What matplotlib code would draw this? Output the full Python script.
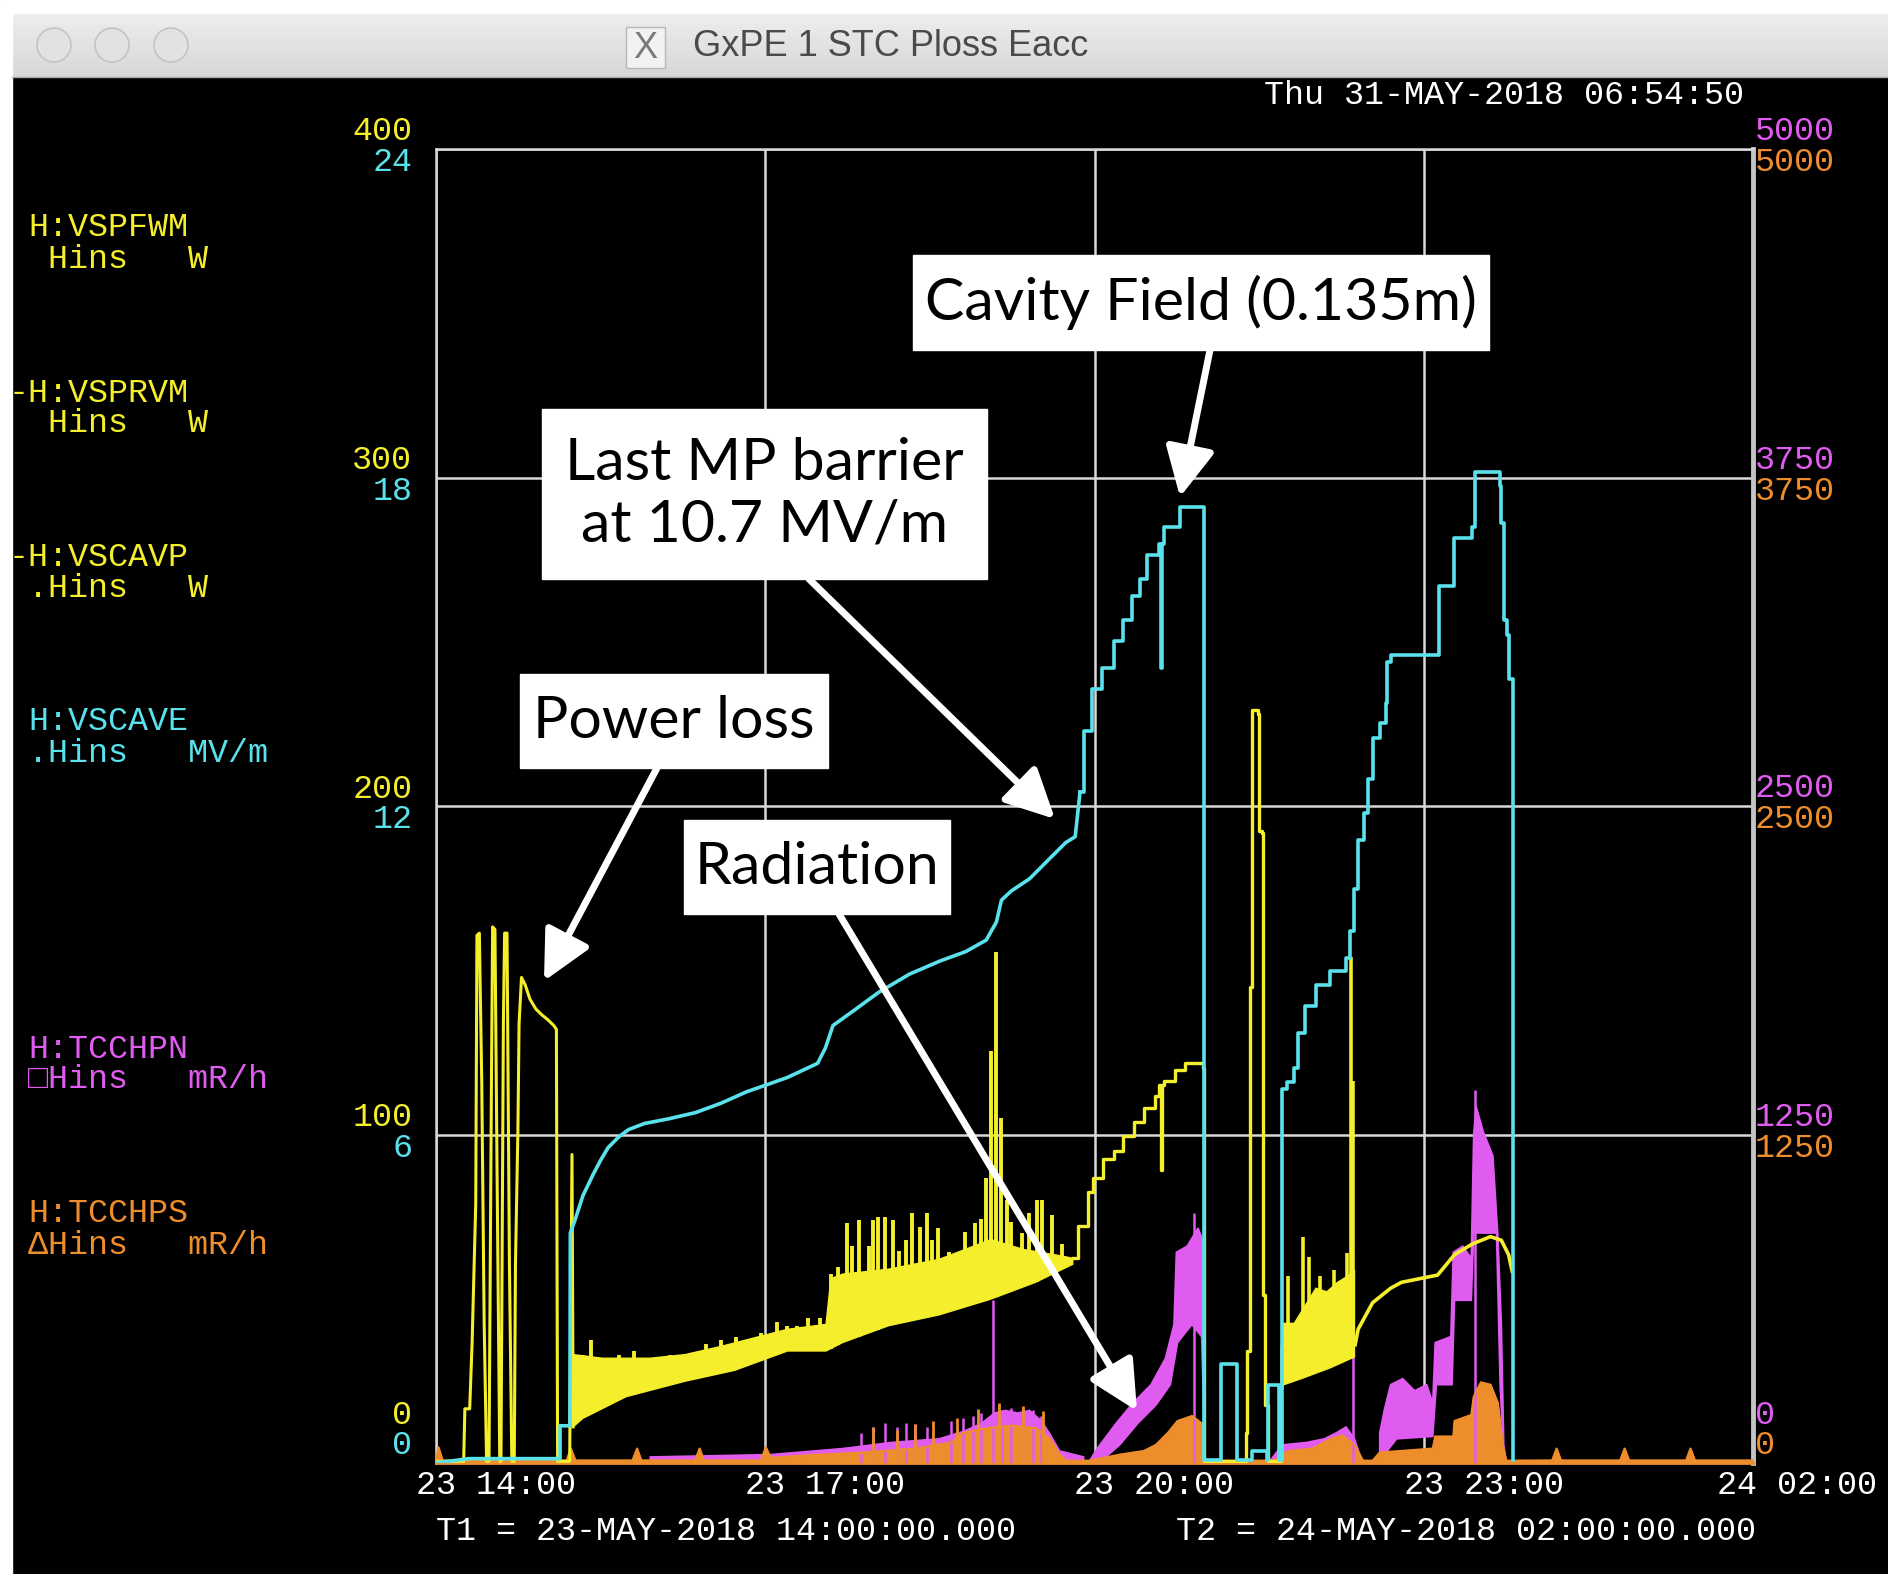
import numpy as np
import matplotlib.pyplot as plt
from matplotlib import transforms
from matplotlib.patches import Rectangle, Circle

W, H = 1888, 1574

# time axis: hours after 23-MAY-2018 14:00
tick_hours = [0, 3, 6, 9, 12]
tick_labels = ["23 14:00", "23 17:00", "23 20:00", "23 23:00", "24 02:00"]
ploss_ticks = [0, 100, 200, 300, 400]
eacc_ticks = [0, 6, 12, 18, 24]
rad_ticks = [0, 1250, 2500, 3750, 5000]

# H:VSCAVE  cavity field (MV/m)
eacc_t = [0.0, 0.30, 1.13, 1.13, 1.22, 1.224, 1.272, 1.338, 1.434, 1.503, 1.568, 1.667, 1.755, 1.898,
          2.128, 2.364, 2.595, 2.830, 3.016, 3.200, 3.477, 3.548, 3.617, 3.804, 4.036, 4.315, 4.594,
          4.826, 5.013, 5.106, 5.152, 5.243, 5.408, 5.572, 5.737, 5.824, 5.868, 5.901, 5.978, 6.066,
          6.175, 6.263, 6.340, 6.417, 6.482, 6.592, 6.603, 6.614, 6.636, 6.768, 6.779, 6.998, 7.0,
          7.152, 7.152, 7.294, 7.294, 7.437, 7.437, 7.546, 7.568, 7.579, 7.579, 7.678, 7.678, 7.711,
          7.711, 7.755, 7.820, 7.853, 7.919, 8.018, 8.150, 8.292, 8.325, 8.369, 8.402, 8.457, 8.490,
          8.534, 8.599, 8.654, 8.665, 8.698, 9.126, 9.137, 9.280, 9.280, 9.444, 9.466, 9.663, 9.696,
          9.707, 9.729, 9.762, 9.773, 9.817, 9.817]
eacc = [0.0, 0.08, 0.08, 0.68, 0.68, 4.20, 4.47, 4.88, 5.28, 5.54, 5.76, 5.96, 6.09, 6.20,
        6.29, 6.40, 6.57, 6.78, 6.91, 7.04, 7.30, 7.58, 7.99, 8.26, 8.60, 8.93, 9.17,
        9.34, 9.55, 9.88, 10.28, 10.45, 10.67, 11.00, 11.33, 11.44, 12.25, 13.37, 14.14, 14.52,
        15.02, 15.40, 15.84, 16.15, 16.59, 16.78, 14.52, 16.78, 17.09, 17.09, 17.47, 17.47, 0.05,
        0.05, 1.80, 1.80, 0.05, 0.05, 0.22, 0.22, 0.05, 0.05, 1.43, 1.43, 0.05, 0.05,
        6.84, 6.96, 7.22, 7.85, 8.34, 8.73, 8.98, 9.22, 9.72, 10.49, 11.37, 11.88, 12.50,
        13.24, 13.51, 13.88, 14.63, 14.76, 14.76, 16.01, 16.01, 16.89, 17.09, 18.10, 18.10, 17.84,
        17.16, 15.40, 15.13, 14.32, 13.31, 0.05]
eacc_steps_from = 5.868  # after this the trace is a coarse staircase

# H:VSCAVP  power loss (W): early trips
ploss_a_t = [0.0, 0.252, 0.263, 0.307, 0.329, 0.362, 0.373, 0.395, 0.417, 0.439, 0.461, 0.483, 0.505,
             0.516, 0.537, 0.559, 0.581, 0.592, 0.614, 0.625, 0.647, 0.669, 0.691, 0.713, 0.724, 0.746,
             0.757, 0.779, 0.812, 0.856, 0.910, 0.965, 1.020, 1.075, 1.097, 1.108, 1.218, 1.239, 1.250]
ploss_a = [0.5, 0.5, 16.5, 16.5, 36.7, 78.8, 160.6, 161.3, 115.5, 42.2, 0.5, 0.5, 115.5,
           163.2, 162.4, 78.8, 0.5, 0.5, 133.8, 161.3, 161.3, 60.5, 0.5, 0.5, 60.5, 100.8,
           133.8, 147.8, 145.6, 141.2, 138.2, 136.4, 134.9, 133.1, 132.0, 0.5, 0.5, 93.9, 11.0]

# noisy power loss band, first ramp
band1_hi_t = [1.250, 1.514, 1.952, 2.270, 2.611, 3.203, 3.554, 3.598, 3.707, 4.124, 4.585, 5.056, 5.353, 5.704, 5.802]
band1_hi = [33.0, 31.9, 31.9, 33.0, 35.6, 40.7, 42.2, 56.1, 57.5, 59.0, 62.0, 68.0, 65.0, 63.0, 62.3]
band1_lo_t = [1.250, 1.338, 1.733, 2.270, 2.720, 3.203, 3.554, 3.707, 4.124, 4.585, 5.056, 5.462, 5.802]
band1_lo = [11.0, 13.6, 20.2, 24.9, 28.2, 34.1, 34.1, 36.7, 41.8, 45.1, 49.9, 55.0, 60.5]
spike1_t = [1.338, 1.409, 1.525, 1.667, 1.805, 1.941, 2.128, 2.270, 2.457, 2.595, 2.731, 2.830, 2.962,
            3.104, 3.200, 3.291, 3.386, 3.499, 3.598, 3.663, 3.746, 3.790, 3.850, 3.943, 3.982, 4.025,
            4.091, 4.168, 4.223, 4.280, 4.333, 4.409, 4.475, 4.520, 4.574, 4.673, 4.760, 4.821, 4.914,
            4.964, 5.013, 5.056, 5.106, 5.152, 5.200, 5.243, 5.337, 5.400, 5.473, 5.524, 5.616, 5.704]
spike1_top = [32.8, 37.4, 30.4, 32.8, 34.1, 30.4, 32.8, 32.8, 36.3, 37.4, 38.5, 36.3, 39.6,
              42.9, 41.8, 41.8, 44.0, 44.0, 57.6, 59.8, 73.0, 66.0, 74.0, 66.0, 74.0, 75.0,
              75.0, 74.0, 64.5, 68.0, 76.0, 71.9, 76.0, 68.0, 71.5, 64.3, 62.3, 70.4, 73.0,
              74.4, 86.9, 125.4, 155.6, 104.9, 80.0, 73.3, 70.0, 76.0, 80.1, 80.1, 75.5, 66.7]

# power loss, second ramp up to the trip and the spike after it
ploss_c_t = [5.802, 5.846, 5.945, 5.989, 6.077, 6.175, 6.263, 6.362, 6.450, 6.548, 6.592, 6.603, 6.614,
             6.636, 6.735, 6.822, 6.921, 6.987, 6.998, 7.360, 7.382, 7.393, 7.415, 7.437, 7.491, 7.503,
             7.524, 7.535, 7.557, 7.579, 7.689, 7.700]
ploss_c = [62.3, 72.2, 82.5, 86.9, 92.4, 95.0, 99.4, 103.8, 108.2, 111.8, 115.1, 89.1, 115.1,
           116.2, 119.5, 121.7, 121.7, 120.3, 0.5, 0.5, 9.2, 34.1, 144.8, 229.2, 228.0, 192.5,
           191.7, 51.0, 17.6, 0.5, 0.5, 20.2]

band2_hi_t = [7.700, 7.722, 7.820, 8.018, 8.117, 8.215, 8.303, 8.369]
band2_hi = [34.8, 42.5, 42.5, 53.2, 52.1, 55.0, 56.8, 58.7]
band2_lo_t = [7.700, 7.722, 7.886, 8.150, 8.369]
band2_lo = [20.2, 23.8, 25.7, 29.0, 32.3]
spike2_t = [7.766, 7.897, 7.952, 8.051, 8.183, 8.303, 8.336, 8.358]
spike2_top = [56.8, 68.9, 62.7, 56.8, 58.7, 63.8, 154.0, 116.2]

ploss_e_t = [8.375, 8.402, 8.534, 8.698, 8.797, 8.961, 9.126, 9.280, 9.444, 9.608, 9.707, 9.773, 9.806]
ploss_e = [36.0, 40.7, 48.8, 53.2, 55.0, 56.1, 57.2, 63.4, 66.7, 68.9, 67.8, 63.4, 58.3]

# H:TCCHPN  radiation north (mR/h), scattered readings drawn as bands
radn_segments = [
    dict(hi_t=[1.952, 3.049, 3.707, 4.146, 4.585, 4.804, 4.969, 5.089, 5.188, 5.298, 5.408, 5.517, 5.594, 5.682, 5.901],
         hi=[23, 32, 55, 78, 92, 120, 150, 190, 200, 190, 200, 160, 110, 46, 23],
         lo_t=[1.952, 5.901], lo=[0, 0]),
    dict(hi_t=[5.956, 6.033, 6.197, 6.351, 6.515, 6.647, 6.724, 6.746, 6.844, 6.943, 6.987, 7.009],
         hi=[9, 60, 151, 229, 298, 399, 527, 802, 825, 894, 848, 9],
         lo_t=[5.956, 6.066, 6.230, 6.395, 6.559, 6.691, 6.757, 6.888, 6.976, 7.009],
         lo=[9, 9, 69, 151, 220, 298, 458, 527, 481, 9]),
    dict(hi_t=[7.601, 7.711, 7.930, 8.095, 8.204, 8.292, 8.369, 8.424],
         hi=[9, 69, 78, 92, 115, 137, 92, 23],
         lo_t=[7.601, 8.424], lo=[0, 0]),
    dict(hi_t=[8.599, 8.643, 8.698, 8.808, 8.917, 9.027, 9.082, 9.104, 9.247, 9.269, 9.356, 9.433, 9.455,
               9.477, 9.543, 9.630, 9.674, 9.707, 9.729, 9.751],
         hi=[115, 206, 298, 321, 275, 298, 229, 458, 481, 802, 825, 779, 1251,
             1357, 1260, 1169, 875, 527, 69, 9],
         lo_t=[8.599, 8.753, 9.082, 9.115, 9.258, 9.280, 9.433, 9.455, 9.663, 9.696, 9.729, 9.751],
         lo=[9, 92, 101, 298, 298, 619, 619, 875, 875, 298, 23, 9]),
]
radn_spike_t = [3.872, 3.982, 4.091, 4.201, 4.278, 4.366, 4.475, 4.694, 4.804, 4.892, 4.969, 5.078, 5.155,
                5.243, 5.353, 5.440, 5.517, 6.910, 8.358, 9.466]
radn_spike = [115, 137, 151, 137, 151, 147, 137, 160, 170, 180, 190, 619, 200,
              210, 205, 200, 180, 950, 435, 1420]

# H:TCCHPS  radiation south (mR/h)
rads_t = [0.0, 0.022, 0.06, 1.19, 1.228, 1.27, 1.79, 1.832, 1.87, 2.36, 2.402, 2.44, 2.96, 3.005, 3.049,
          3.488, 3.927, 4.366, 4.694, 4.804, 5.024, 5.243, 5.462, 5.594, 5.682, 5.748, 5.956, 6.230,
          6.450, 6.559, 6.669, 6.757, 6.888, 6.976, 7.009, 7.634, 7.766, 7.985, 8.150, 8.260, 8.369,
          8.446, 8.534, 8.599, 9.082, 9.104, 9.269, 9.280, 9.433, 9.455, 9.521, 9.608, 9.674, 9.718,
          9.751, 10.17, 10.21, 10.25, 10.79, 10.83, 10.87, 11.39, 11.43, 11.47, 12.0]
rads = [10, 60, 10, 10, 55, 10, 10, 55, 10, 10, 55, 10, 10, 60, 20,
        32, 41, 55, 78, 115, 133, 142, 133, 92, 32, 9, 9, 32,
        46, 69, 115, 160, 179, 151, 9, 9, 46, 55, 92, 105, 69,
        9, 9, 40, 55, 101, 101, 160, 183, 252, 307, 298, 229, 69,
        9, 10, 55, 10, 10, 55, 10, 10, 55, 10, 10]
rads_spike_t = [3.982, 4.201, 4.366, 4.530, 4.749, 4.936, 5.133, 5.353, 5.528]
rads_spike = [137, 124, 147, 160, 170, 206, 229, 215, 197]

YEL = "#f4ee2c"
CYA = "#5ae2ec"
MAG = "#e05cf0"
ORA = "#ee8d2c"
GRID = "#d8d8d8"
MONO = "Liberation Mono"
FS = 24

fig = plt.figure(figsize=(W / 100, H / 100), dpi=100, facecolor="black")


def fx(x):
    return x / W


def fy(y):
    return 1 - y / H


# window frame, pixel coordinates
bg = fig.add_axes([0, 0, 1, 1], zorder=0)
grad = np.linspace(0.93, 0.84, 64).reshape(-1, 1)
bg.imshow(grad, extent=[12, W, 77, 13], cmap="gray", vmin=0, vmax=1, aspect="auto")
bg.add_patch(Rectangle((0, 0), 12, H, color="white"))
bg.add_patch(Rectangle((0, 0), W, 13, color="white"))
bg.plot([12, W], [76.5, 76.5], color="#a8a8a8", lw=1)
for cx in [54, 112, 171]:
    bg.add_patch(Circle((cx, 45), 17, facecolor="#e2e2e2", edgecolor="#c4c4c4", lw=1.2))
bg.add_patch(Rectangle((626, 27), 39, 41, facecolor="#f2f2f2", edgecolor="#b8b8b8", lw=1))
bg.text(645.5, 48, "X", ha="center", va="center", fontsize=26, color="#7a7a7a", family="Liberation Sans")
bg.text(891, 46, "GxPE 1 STC Ploss Eacc", ha="center", va="center", fontsize=26,
        color="#4a4a4a", family="Liberation Sans")
bg.set_xlim(0, W)
bg.set_ylim(H, 0)
bg.axis("off")

# plot frame
ax = fig.add_axes([fx(436), fy(1463), (1753 - 436) / W, (1463 - 149) / H], zorder=1)
ax.set_facecolor("black")
ax.set_xlim(0, 12)
ax.set_ylim(0, 400)
ax.set_xticks(tick_hours)
ax.set_yticks(ploss_ticks)
ax.tick_params(length=0, labelbottom=False, labelleft=False)
ax.grid(True, color=GRID, lw=1.8)
for side in ["top", "left"]:
    ax.spines[side].set_color(GRID)
    ax.spines[side].set_linewidth(1.8)
ax.spines["right"].set_color("#c4c4c4")
ax.spines["right"].set_linewidth(3.5)
ax.spines["bottom"].set_color(ORA)
ax.spines["bottom"].set_linewidth(2)

ax_r = ax.twinx()
ax_w = ax.twinx()
ax_e = ax.twinx()
for a, z in [(ax_r, 2), (ax_w, 3), (ax_e, 4)]:
    a.set_zorder(z)
    a.set_axis_off()
    a.set_xlim(0, 12)
ax_r.set_ylim(0, 5000)
ax_w.set_ylim(0, 400)
ax_e.set_ylim(0, 24)

# radiation
for seg in radn_segments:
    ax_r.fill(np.r_[seg["hi_t"], seg["lo_t"][::-1]], np.r_[seg["hi"], seg["lo"][::-1]],
              color=MAG, lw=1.2)
ax_r.vlines(radn_spike_t, 0, radn_spike, color=MAG, lw=1.8)
ax_r.fill_between(rads_t, 0, rads, color=ORA, lw=1)
ax_r.plot(rads_t, rads, color=ORA, lw=1.5)
ax_r.vlines(rads_spike_t, 0, rads_spike, color=ORA, lw=2)

# power loss
ax_w.plot(ploss_a_t, ploss_a, color=YEL, lw=2.2)
ax_w.fill(np.r_[band1_hi_t, band1_lo_t[::-1]], np.r_[band1_hi, band1_lo[::-1]], color=YEL, lw=1)
ax_w.vlines(spike1_t, np.interp(spike1_t, band1_lo_t, band1_lo), spike1_top, color=YEL, lw=2.8)
ax_w.plot(ploss_c_t, ploss_c, color=YEL, lw=2.4, drawstyle="steps-post")
ax_w.fill(np.r_[band2_hi_t, band2_lo_t[::-1]], np.r_[band2_hi, band2_lo[::-1]], color=YEL, lw=1)
ax_w.vlines(spike2_t, np.interp(spike2_t, band2_lo_t, band2_lo), spike2_top, color=YEL, lw=2.6)
ax_w.plot(ploss_e_t, ploss_e, color=YEL, lw=2.6)

# cavity field: smooth first ramp, staircase afterwards
et = np.array(eacc_t)
ev = np.array(eacc)
k = np.searchsorted(et, eacc_steps_from) + 1
ax_e.plot(et[:k], ev[:k], color=CYA, lw=2.6)
ax_e.plot(et[k - 1:], ev[k - 1:], color=CYA, lw=2.6, drawstyle="steps-post")

# axis labels
for i, (vw, ve) in enumerate(zip(ploss_ticks, eacc_ticks)):
    up_w, up_e = (48, 17) if i == 0 else (17, -14)
    ax.text(-0.018, vw, str(vw), color=YEL, fontsize=FS, family=MONO, ha="right", va="center",
            transform=transforms.offset_copy(ax.get_yaxis_transform(), fig=fig, y=up_w, units="dots"))
    ax_e.text(-0.018, ve, str(ve), color=CYA, fontsize=FS, family=MONO, ha="right", va="center",
              transform=transforms.offset_copy(ax_e.get_yaxis_transform(), fig=fig, y=up_e, units="dots"))
for i, v in enumerate(rad_ticks):
    up_n, up_s = (48, 17) if i == 0 else (17, -14)
    ax_r.text(1.0015, v, str(v), color=MAG, fontsize=FS, family=MONO, ha="left", va="center",
              transform=transforms.offset_copy(ax_r.get_yaxis_transform(), fig=fig, y=up_n, units="dots"))
    ax_r.text(1.0015, v, str(v), color=ORA, fontsize=FS, family=MONO, ha="left", va="center",
              transform=transforms.offset_copy(ax_r.get_yaxis_transform(), fig=fig, y=up_s, units="dots"))
for i, (h, lab) in enumerate(zip(tick_hours, tick_labels)):
    dx = -20 if i < len(tick_hours) - 1 else -36  # keep the last label inside the window
    ax.text(h, 0, lab, color="white", fontsize=FS, family=MONO, ha="left", va="center", clip_on=False,
            transform=transforms.offset_copy(ax.get_xaxis_transform(), fig=fig, x=dx, y=-22, units="dots"))

fig.text(fx(436), fy(1532), "T1 = 23-MAY-2018 14:00:00.000", color="white", fontsize=FS, family=MONO, va="center")
fig.text(fx(1176), fy(1532), "T2 = 24-MAY-2018 02:00:00.000", color="white", fontsize=FS, family=MONO, va="center")
fig.text(fx(1264), fy(96), "Thu 31-MAY-2018 06:54:50", color="white", fontsize=FS, family=MONO, va="center")

# channel legend
legend_rows = [
    ("H:VSPFWM", 228, YEL, 0), (" Hins   W", 259, YEL, 0),
    ("-H:VSPRVM", 393, YEL, -1), (" Hins   W", 424, YEL, 0),
    ("-H:VSCAVP", 557, YEL, -1), (".Hins   W", 589, YEL, 0),
    ("H:VSCAVE", 722, CYA, 0), (".Hins   MV/m", 754, CYA, 0),
    ("H:TCCHPN", 1049, MAG, 0), ("\u25a1Hins   mR/h", 1080, MAG, 0),
    ("H:TCCHPS", 1214, ORA, 0), ("\u0394Hins   mR/h", 1245, ORA, 0),
]
for txt, y, col, shift in legend_rows:
    fig.text(fx(28 + shift * 20), fy(y), txt, color=col, fontsize=FS,
             family=[MONO, "DejaVu Sans Mono"], va="center")

# annotations, pixel coordinates
ov = fig.add_axes([0, 0, 1, 1], zorder=10)
ov.set_xlim(0, W)
ov.set_ylim(H, 0)
ov.axis("off")
notes = [
    ("Cavity Field (0.135m)", (913, 255, 1489, 350), (1210, 350), (1180, 497)),
    ("Last MP barrier\nat 10.7 MV/m", (542, 409, 987, 579), (809, 579), (1055, 819)),
    ("Power loss", (520, 674, 828, 768), (657, 768), (544, 981)),
    ("Radiation", (684, 820, 950, 914), (839, 914), (1137, 1411)),
]
for txt, (x0, y0, x1, y1), tail, head in notes:
    ov.annotate("", xy=head, xytext=tail,
                arrowprops=dict(arrowstyle="-|>,head_length=1.5,head_width=0.75", mutation_scale=20,
                                color="white", lw=5, shrinkA=0, shrinkB=0))
    ov.add_patch(Rectangle((x0, y0), x1 - x0, y1 - y0, color="white", zorder=3))
    ov.text((x0 + x1) / 2, (y0 + y1) / 2, txt, ha="center", va="center", fontsize=42.5,
            family="Lato", color="black", linespacing=1.2, zorder=4)

fig.savefig("out.png", dpi=100, facecolor="black")
